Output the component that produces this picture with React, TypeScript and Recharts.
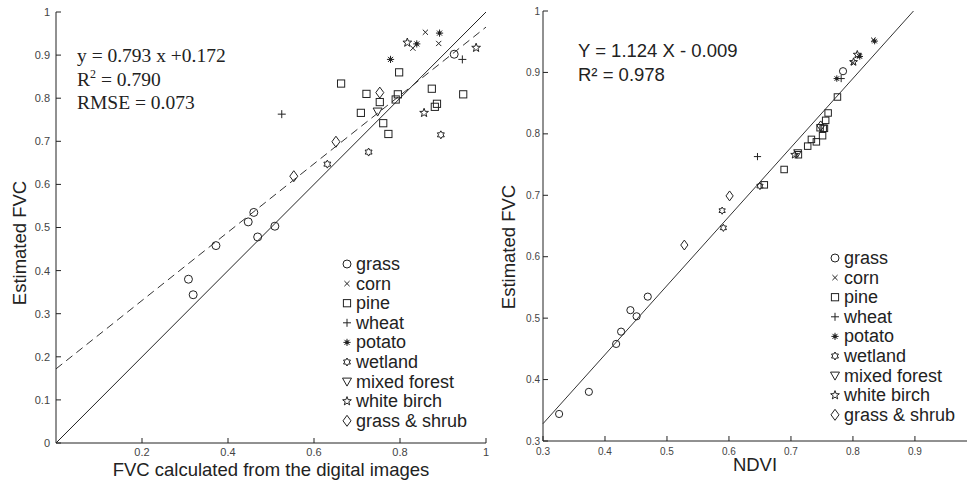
import React from 'react';
import { ScatterChart, Scatter, XAxis, YAxis, ReferenceLine, Legend, Label } from 'recharts';

// Class names (legend order)
const classNames = ['grass', 'corn', 'pine', 'wheat', 'potato', 'wetland', 'mixed forest', 'white birch', 'grass & shrub'];

// Estimated FVC (y, shared by both panels)
const estGrass = [0.380, 0.344, 0.458, 0.513, 0.535, 0.478, 0.503, 0.902];
const estCorn = [0.953, 0.927, 0.916];
const estPine = [0.834, 0.810, 0.766, 0.791, 0.742, 0.717, 0.860, 0.809, 0.797, 0.822, 0.787, 0.780, 0.809];
const estWheat = [0.763, 0.890];
const estPotato = [0.890, 0.926, 0.951];
const estWetland = [0.647, 0.675, 0.715];
const estMixed = [0.769];
const estBirch = [0.929, 0.766, 0.917];
const estShrub = [0.619, 0.699, 0.813];

// FVC calculated from the digital images (left panel x)
const imgGrass = [0.308, 0.319, 0.372, 0.447, 0.460, 0.469, 0.509, 0.926];
const imgCorn = [0.859, 0.890, 0.830];
const imgPine = [0.663, 0.722, 0.709, 0.753, 0.761, 0.773, 0.798, 0.795, 0.790, 0.874, 0.886, 0.881, 0.947];
const imgWheat = [0.525, 0.945];
const imgPotato = [0.778, 0.839, 0.892];
const imgWetland = [0.631, 0.727, 0.895];
const imgMixed = [0.748];
const imgBirch = [0.817, 0.856, 0.977];
const imgShrub = [0.553, 0.651, 0.753];

// NDVI (right panel x)
const ndviGrass = [0.374, 0.326, 0.418, 0.441, 0.469, 0.426, 0.451, 0.784];
const ndviCorn = [0.833, 0.810, 0.800];
const ndviPine = [0.760, 0.747, 0.712, 0.733, 0.689, 0.657, 0.775, 0.754, 0.751, 0.756, 0.741, 0.727, 0.752];
const ndviWheat = [0.646, 0.781];
const ndviPotato = [0.774, 0.811, 0.835];
const ndviWetland = [0.591, 0.589, 0.650];
const ndviMixed = [0.711];
const ndviBirch = [0.807, 0.706, 0.801];
const ndviShrub = [0.528, 0.601, 0.748];

// Tick values
const leftXTicks = [0.2, 0.4, 0.6, 0.8, 1];
const leftYTicks = [0, 0.1, 0.2, 0.3, 0.4, 0.5, 0.6, 0.7, 0.8, 0.9, 1];
const rightXTicks = [0.3, 0.4, 0.5, 0.6, 0.7, 0.8, 0.9];
const rightYTicks = [0.3, 0.4, 0.5, 0.6, 0.7, 0.8, 0.9, 1];

// Regression fits
const leftFit = { slope: 0.793, intercept: 0.172 };
const rightFit = { slope: 1.124, intercept: -0.009 };

const estAll = [estGrass, estCorn, estPine, estWheat, estPotato, estWetland, estMixed, estBirch, estShrub];
const imgAll = [imgGrass, imgCorn, imgPine, imgWheat, imgPotato, imgWetland, imgMixed, imgBirch, imgShrub];
const ndviAll = [ndviGrass, ndviCorn, ndviPine, ndviWheat, ndviPotato, ndviWetland, ndviMixed, ndviBirch, ndviShrub];

const leftSeries = classNames.map((name, k) => ({ name, data: estAll[k].map((y, i) => ({ x: imgAll[k][i], y })) }));
const rightSeries = classNames.map((name, k) => ({ name, data: estAll[k].map((y, i) => ({ x: ndviAll[k][i], y })) }));

const INK = '#222';
const SANS = '"Liberation Sans", Arial, sans-serif';
const SERIF = '"Liberation Serif", "Times New Roman", serif';

function starPoints(cx: number, cy: number, n: number, R: number, r: number) {
  const pts: string[] = [];
  for (let k = 0; k < 2 * n; k++) {
    const a = (-90 + (k * 180) / n) * Math.PI / 180;
    const rad = k % 2 === 0 ? R : r;
    pts.push(`${(cx + rad * Math.cos(a)).toFixed(2)},${(cy + rad * Math.sin(a)).toFixed(2)}`);
  }
  return pts.join(' ');
}

function Marker({ kind, cx, cy, s = 1 }: { kind: string; cx: number; cy: number; s?: number }) {
  const st = { fill: 'none', stroke: INK, strokeWidth: 1 };
  if (cx == null || cy == null) return null;
  switch (kind) {
    case 'grass':
      return <circle cx={cx} cy={cy} r={4 * s} {...st} />;
    case 'corn': {
      const d = 2.6 * s;
      return <path d={`M${cx - d},${cy - d}L${cx + d},${cy + d}M${cx - d},${cy + d}L${cx + d},${cy - d}`} {...st} />;
    }
    case 'pine':
      return <rect x={cx - 3.6 * s} y={cy - 3.6 * s} width={7.2 * s} height={7.2 * s} {...st} />;
    case 'wheat': {
      const d = 4 * s;
      return <path d={`M${cx - d},${cy}L${cx + d},${cy}M${cx},${cy - d}L${cx},${cy + d}`} {...st} />;
    }
    case 'potato': {
      const d = 3.6 * s;
      const e = d * 0.707;
      return (
        <g>
          <path d={`M${cx - d},${cy}L${cx + d},${cy}M${cx},${cy - d}L${cx},${cy + d}M${cx - e},${cy - e}L${cx + e},${cy + e}M${cx - e},${cy + e}L${cx + e},${cy - e}`} {...st} />
          <circle cx={cx} cy={cy} r={1.8 * s} fill={INK} />
        </g>
      );
    }
    case 'wetland':
      return <polygon points={starPoints(cx, cy, 6, 4 * s, 2.3 * s)} {...st} />;
    case 'mixed forest':
      return <polygon points={`${cx - 4.5 * s},${cy - 3.5 * s} ${cx + 4.5 * s},${cy - 3.5 * s} ${cx},${cy + 4.5 * s}`} {...st} />;
    case 'white birch':
      return <polygon points={starPoints(cx, cy, 5, 4.6 * s, 1.9 * s)} {...st} />;
    case 'grass & shrub':
      return <polygon points={`${cx},${cy - 5.5 * s} ${cx + 4 * s},${cy} ${cx},${cy + 5.5 * s} ${cx - 4 * s},${cy}`} {...st} />;
    default:
      return null;
  }
}

const fmt = (v: number) => String(Math.round(v * 10) / 10);

function LegendBox({ rowH }: { rowH: number }) {
  return (
    <svg width={160} height={190} style={{ overflow: 'visible' }}>
      {classNames.map((name, i) => (
        <g key={name}>
          <Marker kind={name} cx={12} cy={10 + i * rowH} s={1} />
          <text x={21} y={10 + i * rowH + 6} fontFamily={SANS} fontSize={18} fill={INK}>{name}</text>
        </g>
      ))}
    </svg>
  );
}

export default function App() {
  return (
    <div style={{ position: 'fixed', left: 0, top: 0, width: 968, height: 485, background: '#fff', overflow: 'hidden' }}>
      {/* Left panel */}
      <div style={{ position: 'absolute', left: 0, top: 0 }}>
        <ScatterChart width={490} height={485} margin={{ top: 12, right: 4, bottom: 0, left: 0 }}>
          <XAxis type="number" dataKey="x" domain={[0, 1]} ticks={leftXTicks} tickFormatter={fmt} height={42}
            tickSize={-5} tickMargin={10} stroke={INK} allowDataOverflow
            tick={{ fontSize: 11, fill: '#444', fontFamily: SANS }}>
            <Label content={() => (
              <text x={271} y={476} textAnchor="middle" fontFamily={SANS} fontSize={18.5} fill={INK}>FVC calculated from the digital images</text>
            )} />
          </XAxis>
          <XAxis xAxisId="top" orientation="top" type="number" domain={[0, 1]} ticks={leftXTicks} height={0}
            tickSize={-5} tick={false} stroke={INK} allowDataOverflow />
          <YAxis type="number" dataKey="y" domain={[0, 1]} ticks={leftYTicks} tickFormatter={fmt} width={56}
            tickSize={-5} tickMargin={11} stroke={INK} allowDataOverflow
            tick={{ fontSize: 11, fill: '#444', fontFamily: SANS }}>
            <Label content={() => (
              <text x={26} y={243} transform="rotate(-90 26 243)" textAnchor="middle" fontFamily={SANS} fontSize={18.5} fill={INK}>Estimated FVC</text>
            )} />
          </YAxis>
          <YAxis yAxisId="right" orientation="right" type="number" domain={[0, 1]} ticks={leftYTicks} width={0}
            tickSize={-5} tick={false} stroke={INK} allowDataOverflow />
          <ReferenceLine segment={[{ x: 0, y: 0 }, { x: 1, y: 1 }]} stroke={INK} strokeWidth={1} ifOverflow="visible" />
          <ReferenceLine segment={[{ x: 0, y: leftFit.intercept }, { x: 1, y: leftFit.slope + leftFit.intercept }]}
            stroke="#333" strokeWidth={1} strokeDasharray="8 5" ifOverflow="visible" />
          {leftSeries.map((s) => (
            <Scatter key={s.name} name={s.name} data={s.data} isAnimationActive={false}
              shape={(p: any) => <Marker kind={s.name} cx={p.cx} cy={p.cy} s={1} />} />
          ))}
          <Legend layout="vertical" align="center" verticalAlign="middle"
            wrapperStyle={{ left: 335, top: 254, width: 160, height: 190 }}
            content={() => <LegendBox rowH={19.6} />} />
        </ScatterChart>
      </div>

      {/* Right panel */}
      <div style={{ position: 'absolute', left: 490, top: 0 }}>
        <ScatterChart width={478} height={485} margin={{ top: 11, right: 1, bottom: 0, left: 0 }}>
          <XAxis type="number" dataKey="x" domain={[0.3, 0.984]} ticks={rightXTicks} tickFormatter={fmt} height={44}
            tickSize={-5} tickMargin={12} stroke={INK} allowDataOverflow
            tick={{ fontSize: 10, fill: '#444', fontFamily: SANS }}>
            <Label content={() => (
              <text x={265} y={471} textAnchor="middle" fontFamily={SANS} fontSize={18.5} fill={INK}>NDVI</text>
            )} />
          </XAxis>
          <XAxis xAxisId="top" orientation="top" type="number" domain={[0.3, 0.984]} ticks={rightXTicks} height={0}
            tickSize={-5} tick={false} stroke={INK} allowDataOverflow />
          <YAxis type="number" dataKey="y" domain={[0.3, 1]} ticks={rightYTicks} tickFormatter={fmt} width={53}
            tickSize={-5} tickMargin={8} stroke={INK} allowDataOverflow
            tick={{ fontSize: 10, fill: '#444', fontFamily: SANS }}>
            <Label content={() => (
              <text x={25} y={247} transform="rotate(-90 25 247)" textAnchor="middle" fontFamily={SANS} fontSize={18.5} fill={INK}>Estimated FVC</text>
            )} />
          </YAxis>
          <YAxis yAxisId="right" orientation="right" type="number" domain={[0.3, 1]} ticks={rightYTicks} width={0}
            tickSize={-5} tick={false} stroke={INK} allowDataOverflow />
          <ReferenceLine segment={[
            { x: 0.3, y: rightFit.slope * 0.3 + rightFit.intercept },
            { x: (1 - rightFit.intercept) / rightFit.slope, y: 1 },
          ]} stroke="#333" strokeWidth={1} ifOverflow="visible" />
          {rightSeries.map((s) => (
            <Scatter key={s.name} name={s.name} data={s.data} isAnimationActive={false}
              shape={(p: any) => <Marker kind={s.name} cx={p.cx} cy={p.cy} s={0.9} />} />
          ))}
          <Legend layout="vertical" align="center" verticalAlign="middle"
            wrapperStyle={{ left: 333, top: 248, width: 160, height: 190 }}
            content={() => <LegendBox rowH={19.6} />} />
        </ScatterChart>
      </div>

      {/* Regression annotations */}
      <svg width={968} height={485} style={{ position: 'absolute', left: 0, top: 0, pointerEvents: 'none' }}>
        <text x={77} y={62} fontFamily={SERIF} fontSize={19.5} fill={INK}>y = 0.793 x  +0.172</text>
        <text x={77} y={86} fontFamily={SERIF} fontSize={19.5} fill={INK}>
          R<tspan dy={-8} fontSize={12}>2</tspan><tspan dy={8}> = 0.790</tspan>
        </text>
        <text x={77} y={109} fontFamily={SERIF} fontSize={19.5} fill={INK}>RMSE = 0.073</text>
        <text x={578} y={57} fontFamily={SANS} fontSize={18.5} fill={INK}>Y = 1.124 X - 0.009</text>
        <text x={578} y={81} fontFamily={SANS} fontSize={18.5} fill={INK}>R² = 0.978</text>
      </svg>
    </div>
  );
}
